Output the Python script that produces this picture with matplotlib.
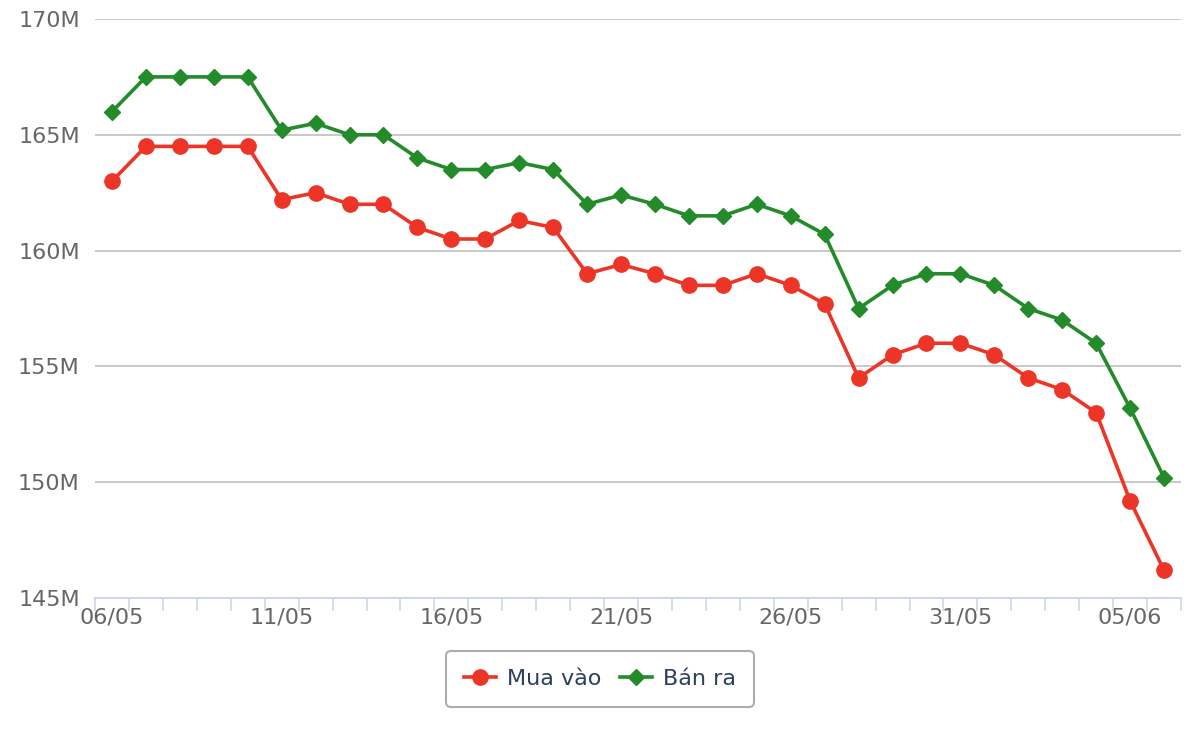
import matplotlib
matplotlib.use("Agg")
import matplotlib.pyplot as plt
from matplotlib.ticker import FixedLocator, FuncFormatter

# ngay 06/05 -> 06/06
dates = ["06/05", "07/05", "08/05", "09/05", "10/05", "11/05", "12/05", "13/05",
         "14/05", "15/05", "16/05", "17/05", "18/05", "19/05", "20/05", "21/05",
         "22/05", "23/05", "24/05", "25/05", "26/05", "27/05", "28/05", "29/05",
         "30/05", "31/05", "01/06", "02/06", "03/06", "04/06", "05/06", "06/06"]

mua_vao = [163.0, 164.5, 164.5, 164.5, 164.5, 162.2, 162.5, 162.0,
           162.0, 161.0, 160.5, 160.5, 161.3, 161.0, 159.0, 159.4,
           159.0, 158.5, 158.5, 159.0, 158.5, 157.7, 154.5, 155.5,
           156.0, 156.0, 155.5, 154.5, 154.0, 153.0, 149.2, 146.2]

ban_ra = [166.0, 167.5, 167.5, 167.5, 167.5, 165.2, 165.5, 165.0,
          165.0, 164.0, 163.5, 163.5, 163.8, 163.5, 162.0, 162.4,
          162.0, 161.5, 161.5, 162.0, 161.5, 160.7, 157.5, 158.5,
          159.0, 159.0, 158.5, 157.5, 157.0, 156.0, 153.2, 150.2]

y_ticks = [145, 150, 155, 160, 165, 170]

fig = plt.figure(figsize=(12, 7.4), dpi=100)
ax = fig.add_axes([95 / 1200, 1 - 598 / 740, (1181 - 95) / 1200, (598 - 19) / 740])

x = list(range(len(dates)))
ax.plot(x, mua_vao, color="#ec3526", lw=2.6, marker="o", ms=11, label="Mua vào", zorder=3)
ax.plot(x, ban_ra, color="#238b2a", lw=2.6, marker="D", ms=8, label="Bán ra", zorder=3)

ax.set_xlim(-0.5, len(dates) - 0.5)
ax.set_ylim(145, 170)
ax.yaxis.set_major_locator(FixedLocator(y_ticks))
ax.yaxis.set_major_formatter(FuncFormatter(lambda v, p: f"{int(v)}M"))
ax.grid(axis="y", color="#c4c4c4", lw=1.3)
ax.set_axisbelow(True)

ax.set_xticks(x[::5])
ax.set_xticklabels(dates[::5])
ax.set_xticks([i - 0.5 for i in range(len(dates) + 1)], minor=True)
ax.tick_params(axis="x", which="major", length=0, pad=7, labelsize=16, labelcolor="#666666")
ax.tick_params(axis="x", which="minor", length=9, width=1.2, color="#ccd6eb")
ax.tick_params(axis="y", length=0, pad=11, labelsize=16, labelcolor="#666666")

for s in ["top", "right", "left"]:
    ax.spines[s].set_visible(False)
ax.spines["bottom"].set_color("#ccd6eb")
ax.spines["bottom"].set_linewidth(1.3)

leg = ax.legend(loc="center", bbox_to_anchor=(0.5, 1 - 679 / 740), bbox_transform=fig.transFigure,
                ncol=2, fontsize=16, frameon=True, fancybox=True, edgecolor="#999999",
                handlelength=1.45, columnspacing=0.8, handletextpad=0.5, borderpad=0.8)
leg.get_frame().set_linewidth(1.5)
for t in leg.get_texts():
    t.set_color("#2a3f5f")

fig.savefig("out.png", dpi=100)
